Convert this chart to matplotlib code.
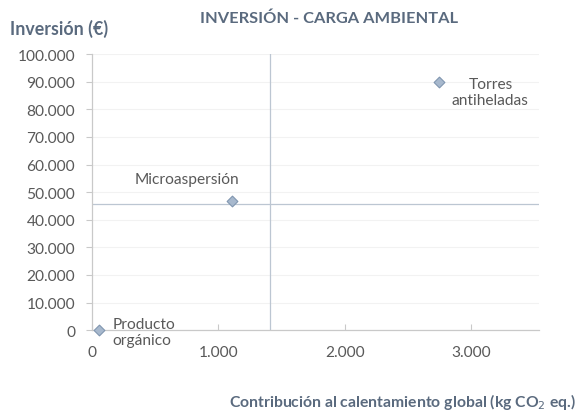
import matplotlib
matplotlib.use("Agg")
import matplotlib.pyplot as plt
from matplotlib.ticker import FuncFormatter

plt.rcParams['font.family'] = ['Lato', 'DejaVu Sans']

# data
names = ['Producto\norgánico', 'Microaspersión', 'Torres\nantiheladas']
co2 = [60, 1110, 2750]          # kg CO2 eq.
inversion = [0, 46700, 90000]   # euros
ref_x = 1410                    # vertical reference line
ref_y = 45600                   # horizontal reference line

xticks = [0, 1000, 2000, 3000]
yticks = list(range(0, 100001, 10000))

txt = '#595959'
head = '#5a6a7e'
axc = '#c9c9c9'

fig = plt.figure(figsize=(5.78, 4.14), dpi=100)
ax = fig.add_axes([0.159, 0.200, 0.774, 0.667])

ax.set_xlim(0, 3540)
ax.set_ylim(0, 100000)
ax.set_xticks(xticks)
ax.set_yticks(yticks)
fmt = FuncFormatter(lambda v, p: f"{v:,.0f}".replace(',', '.'))
ax.xaxis.set_major_formatter(fmt)
ax.yaxis.set_major_formatter(fmt)

ax.grid(axis='y', color='#f2f2f2', linewidth=0.8)
ax.set_axisbelow(True)
for s in ['top', 'right']:
    ax.spines[s].set_visible(False)
for s in ['left', 'bottom']:
    ax.spines[s].set_color(axc)
    ax.spines[s].set_linewidth(0.9)
ax.tick_params(colors=axc, labelcolor=txt, labelsize=11.2, length=4, width=0.8)
ax.tick_params(axis='y', pad=8)
ax.tick_params(axis='x', direction='in', pad=11)

ax.axvline(ref_x, color='#bcc6d2', linewidth=0.9)
ax.axhline(ref_y, color='#bcc6d2', linewidth=0.9)

ax.scatter(co2, inversion, marker='D', s=30, color='#a7b8cd',
           edgecolor='#8096b0', linewidth=0.8, zorder=3, clip_on=False)

offsets = [(13, -2), (-45, 22), (51, -10)]
aligns = ['left', 'center', 'center']
for n, x, y, off, ha in zip(names, co2, inversion, offsets, aligns):
    ax.annotate(n, (x, y), xytext=off, textcoords='offset pixels',
                ha=ha, va='center', multialignment=ha, fontsize=11.2,
                color=txt, linespacing=1.15)

fig.text(0.57, 0.955, 'INVERSIÓN - CARGA AMBIENTAL', ha='center', va='center',
         fontsize=11.8, fontweight='bold', color=head)
fig.text(0.017, 0.93, 'Inversión (€)', ha='left', va='center',
         fontsize=12.8, fontweight='bold', color=head)
fig.text(0.997, 0.03, 'Contribución al calentamiento global (kg CO$_2$ eq.)',
         ha='right', va='center', fontsize=11.3, fontweight='bold', color=head)

fig.savefig('out.png', dpi=100, facecolor='white')
